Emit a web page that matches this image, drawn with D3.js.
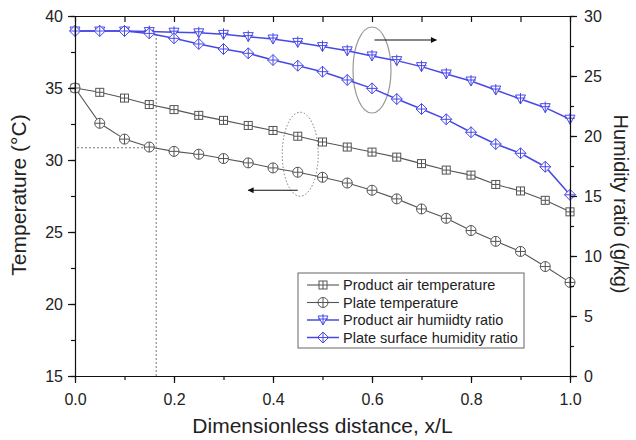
<!DOCTYPE html>
<html>
<head>
<meta charset="utf-8">
<script src="https://cdn.jsdelivr.net/npm/d3@7"></script>
<style>
  body { margin: 0; background: #fff; }
  svg { font-family: "Liberation Sans", Arial, sans-serif; }
</style>
</head>
<body>
<svg id="chart" width="636" height="440"></svg>
<script>
// x positions along the plate
var xs = [0, 0.05, 0.1, 0.15, 0.2, 0.25, 0.3, 0.35, 0.4, 0.45, 0.5,
          0.55, 0.6, 0.65, 0.7, 0.75, 0.8, 0.85, 0.9, 0.95, 1.0];

// temperatures (left axis, °C)
var productAirTemp = [35.0, 34.7, 34.3, 33.85, 33.5, 33.1, 32.75, 32.4, 32.05, 31.65, 31.25,
                      30.9, 30.55, 30.2, 29.75, 29.3, 28.95, 28.3, 27.85, 27.2, 26.4];
var plateTemp = [35.0, 32.55, 31.45, 30.9, 30.6, 30.4, 30.1, 29.8, 29.45, 29.15, 28.8,
                 28.4, 27.9, 27.3, 26.6, 25.95, 25.1, 24.35, 23.65, 22.6, 21.5];

// humidity ratios (right axis, g/kg)
var productAirHum = [28.75, 28.75, 28.75, 28.7, 28.65, 28.6, 28.47, 28.28, 28.08, 27.8, 27.45,
                     27.1, 26.67, 26.28, 25.78, 25.17, 24.58, 23.83, 23.08, 22.36, 21.4];
var plateSurfHum = [28.75, 28.75, 28.75, 28.55, 28.14, 27.67, 27.25, 26.89, 26.33, 25.86, 25.36,
                    24.67, 23.97, 23.08, 22.25, 21.39, 20.31, 19.33, 18.56, 17.44, 15.1];

var xTicks = [0, 0.2, 0.4, 0.6, 0.8, 1.0];
var tempTicks = [15, 20, 25, 30, 35, 40];
var humTicks = [0, 5, 10, 15, 20, 25, 30];

var legendNames = ['Product air temperature', 'Plate temperature',
                   'Product air humiidty ratio', 'Plate surface humidity ratio'];

var svg = d3.select('#chart');
var margin = {top: 16, right: 66, bottom: 64, left: 75};
var w = 636 - margin.left - margin.right;
var h = 440 - margin.top - margin.bottom;

var xScale = d3.scaleLinear().domain([0, 1]).range([0, w]);
var yTemp = d3.scaleLinear().domain([15, 40]).range([h, 0]);
var yHum = d3.scaleLinear().domain([0, 30]).range([h, 0]);

var g = svg.append('g')
    .attr('transform', 'translate(' + margin.left + ',' + margin.top + ')');

var grey = '#555';
var blue = '#4848e8';

// guide lines (dotted)
g.append('line')
    .attr('x1', xScale(0.164)).attr('x2', xScale(0.164))
    .attr('y1', yHum(28.5)).attr('y2', h)
    .attr('stroke', '#777').attr('stroke-width', 1).attr('stroke-dasharray', '2,2');
g.append('line')
    .attr('x1', 2).attr('x2', xScale(0.164))
    .attr('y1', yTemp(30.85)).attr('y2', yTemp(30.85))
    .attr('stroke', '#777').attr('stroke-width', 1).attr('stroke-dasharray', '2,2');

// ellipses
g.append('ellipse')
    .attr('cx', xScale(0.455)).attr('cy', yTemp(30.4))
    .attr('rx', 18).attr('ry', 42)
    .attr('fill', 'none').attr('stroke', '#777').attr('stroke-dasharray', '1.5,2');
g.append('ellipse')
    .attr('cx', xScale(0.6)).attr('cy', yHum(25.5))
    .attr('rx', 19).attr('ry', 43)
    .attr('fill', 'none').attr('stroke', '#999').attr('stroke-width', 1.2);

// arrows
var defs = svg.append('defs');
defs.append('marker')
    .attr('id', 'head')
    .attr('viewBox', '0 0 10 10')
    .attr('refX', 9).attr('refY', 5)
    .attr('markerWidth', 9).attr('markerHeight', 6)
    .attr('markerUnits', 'userSpaceOnUse')
    .attr('orient', 'auto')
    .append('path').attr('d', 'M0,0 L10,5 L0,10 z').attr('fill', '#111');

g.append('line')
    .attr('x1', xScale(0.45)).attr('x2', xScale(0.35))
    .attr('y1', yTemp(27.9)).attr('y2', yTemp(27.9))
    .attr('stroke', '#111').attr('stroke-width', 1.2).attr('marker-end', 'url(#head)');
g.append('line')
    .attr('x1', xScale(0.605)).attr('x2', xScale(0.73))
    .attr('y1', yHum(28)).attr('y2', yHum(28))
    .attr('stroke', '#111').attr('stroke-width', 1.2).attr('marker-end', 'url(#head)');

// marker shapes
function drawMarker(sel, kind, color) {
    sel.attr('stroke', color).attr('fill', '#fff').attr('stroke-width', 1);
    if (kind === 'square') {
        sel.append('rect').attr('x', -4).attr('y', -4).attr('width', 8).attr('height', 8);
        sel.append('path').attr('d', 'M-4,0H4M0,-4V4').attr('fill', 'none');
    } else if (kind === 'circle') {
        sel.append('circle').attr('r', 5);
        sel.append('path').attr('d', 'M-5,0H5M0,-5V5').attr('fill', 'none');
    } else if (kind === 'tri') {
        sel.append('path').attr('d', 'M-5,-4H5L0,5Z');
        sel.append('path').attr('d', 'M-5,-1H5M0,-6V5').attr('fill', 'none');
    } else {
        sel.append('path').attr('d', 'M0,-5.5L5.5,0L0,5.5L-5.5,0Z');
        sel.append('path').attr('d', 'M-5.5,0H5.5M0,-5.5V5.5').attr('fill', 'none');
    }
}

var series = [
    {vals: productAirTemp, y: yTemp, color: grey, kind: 'square'},
    {vals: plateTemp, y: yTemp, color: grey, kind: 'circle'},
    {vals: productAirHum, y: yHum, color: blue, kind: 'tri'},
    {vals: plateSurfHum, y: yHum, color: blue, kind: 'diamond'}
];

series.forEach(function (s) {
    var line = d3.line()
        .x(function (d, i) { return xScale(xs[i]); })
        .y(function (d) { return s.y(d); });
    g.append('path')
        .datum(s.vals)
        .attr('d', line)
        .attr('fill', 'none')
        .attr('stroke', s.color)
        .attr('stroke-width', s.color === blue ? 1.5 : 1.1);
});

series.forEach(function (s) {
    g.append('g').selectAll('g')
        .data(s.vals)
        .enter().append('g')
        .attr('transform', function (d, i) { return 'translate(' + xScale(xs[i]) + ',' + s.y(d) + ')'; })
        .each(function () { drawMarker(d3.select(this), s.kind, s.color); });
});

// axes
function styleAxis(sel, size) {
    sel.selectAll('path, line').attr('stroke', '#111').attr('stroke-width', 1.2);
    sel.selectAll('text').attr('fill', '#222').style('font-size', size + 'px')
        .style('font-family', '"Liberation Sans", Arial, sans-serif');
}

var xMinor = d3.range(0, 1.0001, 0.1);
g.append('g')
    .attr('transform', 'translate(0,' + h + ')')
    .call(d3.axisBottom(xScale).tickValues(xMinor).tickSize(4).tickSizeOuter(0).tickFormat(''))
    .call(styleAxis, 16);
g.append('g')
    .attr('transform', 'translate(0,' + h + ')')
    .call(d3.axisBottom(xScale).tickValues(xTicks).tickSize(7).tickSizeOuter(0).tickPadding(11).tickFormat(d3.format('.1f')))
    .call(function (a) { a.select('.domain').remove(); })
    .call(styleAxis, 16);
g.append('g')
    .call(d3.axisBottom(xScale).tickValues(xMinor).tickSize(6).tickSizeOuter(0).tickFormat(''))
    .call(styleAxis, 16);

var tempMinor = d3.range(15, 40.01, 2.5);
g.append('g')
    .call(d3.axisLeft(yTemp).tickValues(tempMinor).tickSize(4).tickSizeOuter(0).tickFormat(''))
    .call(styleAxis, 16);
g.append('g')
    .call(d3.axisLeft(yTemp).tickValues(tempTicks).tickSize(7).tickPadding(5).tickSizeOuter(0))
    .call(function (a) { a.select('.domain').remove(); })
    .call(styleAxis, 16);

var humMinor = d3.range(0, 30.01, 2.5);
g.append('g')
    .attr('transform', 'translate(' + w + ',0)')
    .call(d3.axisRight(yHum).tickValues(humMinor).tickSize(4).tickSizeOuter(0).tickFormat(''))
    .call(styleAxis, 16);
g.append('g')
    .attr('transform', 'translate(' + w + ',0)')
    .call(d3.axisRight(yHum).tickValues(humTicks).tickSize(7).tickPadding(7).tickSizeOuter(0))
    .call(function (a) { a.select('.domain').remove(); })
    .call(styleAxis, 16);

// axis titles
svg.append('text')
    .attr('x', margin.left + w / 2).attr('y', 433)
    .attr('text-anchor', 'middle')
    .style('font-size', '21px').attr('fill', '#222')
    .text('Dimensionless distance, x/L');
svg.append('text')
    .attr('transform', 'translate(26,' + 195 + ') rotate(-90)')
    .attr('text-anchor', 'middle')
    .style('font-size', '21px').attr('fill', '#222')
    .text('Temperature (°C)');
svg.append('text')
    .attr('transform', 'translate(614,' + 204 + ') rotate(90)')
    .attr('text-anchor', 'middle')
    .style('font-size', '20px').attr('fill', '#222')
    .text('Humidity ratio (g/kg)');

// legend
var legend = g.append('g').attr('transform', 'translate(223,257)');
legend.append('rect')
    .attr('width', 226).attr('height', 75)
    .attr('fill', '#fff').attr('stroke', '#666').attr('stroke-width', 1);
series.forEach(function (s, i) {
    var row = legend.append('g').attr('transform', 'translate(0,' + (12 + i * 17.5) + ')');
    row.append('line').attr('x1', 9).attr('x2', 41)
        .attr('stroke', s.color).attr('stroke-width', s.color === blue ? 1.5 : 1.1);
    drawMarker(row.append('g').attr('transform', 'translate(25,0)'), s.kind, s.color);
    row.append('text').attr('x', 45).attr('y', 5)
        .style('font-size', '14.5px').attr('fill', '#222')
        .text(legendNames[i]);
});
</script>
</body>
</html>
